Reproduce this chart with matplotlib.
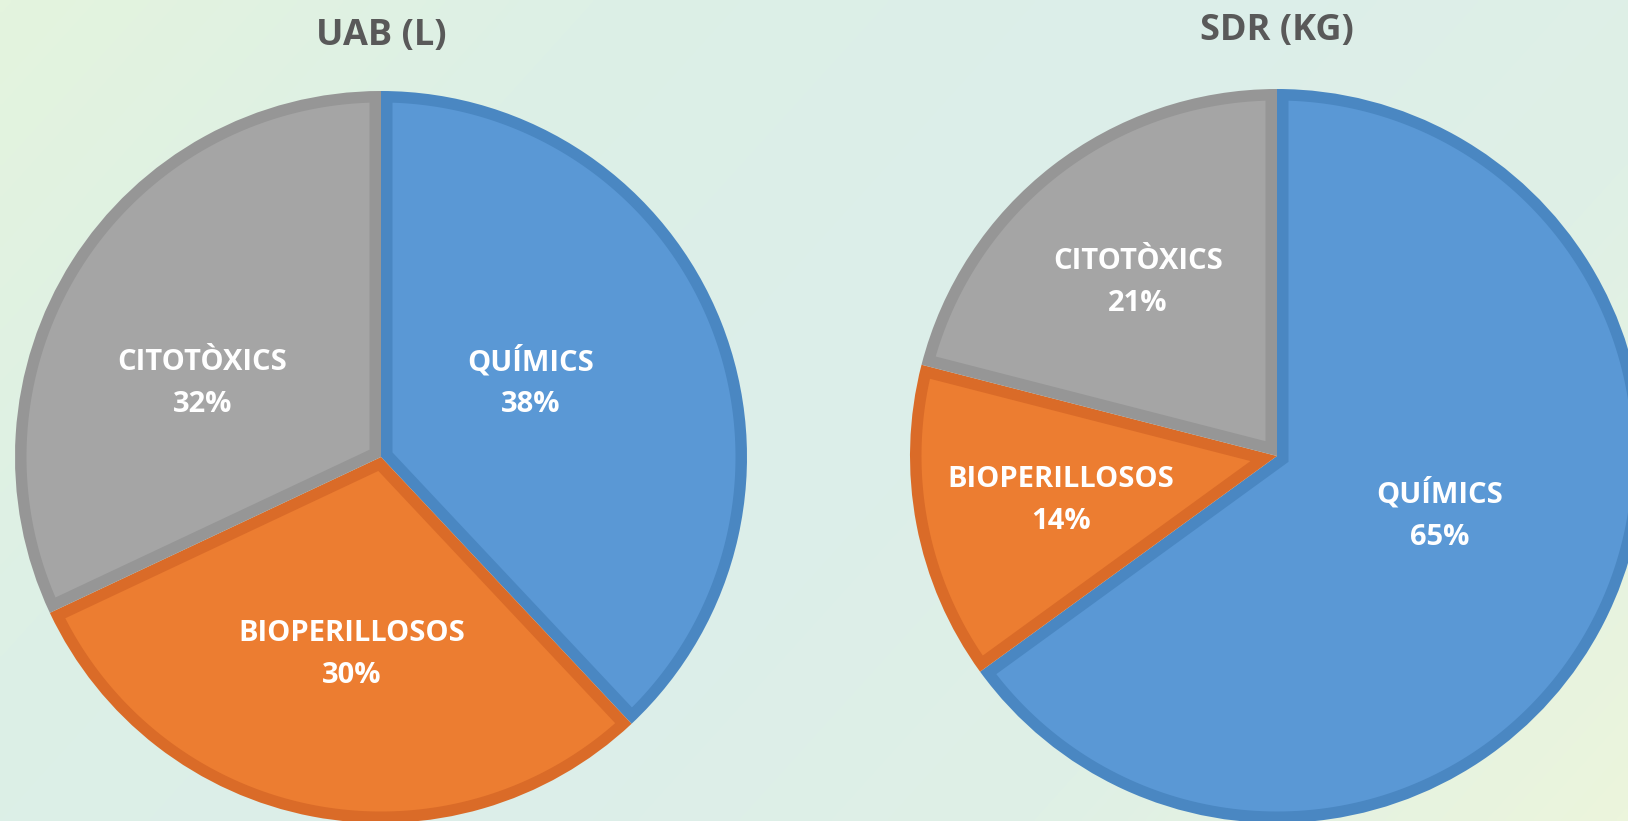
import numpy as np
import matplotlib
matplotlib.use("Agg")
import matplotlib.pyplot as plt
from matplotlib.colors import LinearSegmentedColormap
from matplotlib.patches import Polygon

# ---- data ----
categories = ["QUÍMICS", "BIOPERILLOSOS", "CITOTÒXICS"]
uab_values = [38, 30, 32]
sdr_values = [65, 14, 21]
titles = ["UAB (L)", "SDR (KG)"]

# ---- style ----
fills = ["#5A98D5", "#EC7D31", "#A5A5A5"]
edges = ["#4A87C2", "#DA6B28", "#969696"]
title_color = "#595959"
border = 11.5  # px, inner border width

W, H = 1628, 821
fig = plt.figure(figsize=(W / 100, H / 100), dpi=100)
ax = fig.add_axes([0, 0, 1, 1])
ax.set_xlim(0, W)
ax.set_ylim(0, H)
ax.set_aspect("equal")
ax.axis("off")

# background gradient
xx, yy = np.meshgrid(np.linspace(0, 1, 400), np.linspace(0, 1, 200))
t = np.clip(0.55 * xx + 0.25 * (1 - yy), 0, 1)
bg_cmap = LinearSegmentedColormap.from_list(
    "bg", ["#E4F4DE", "#DDF0E6", "#DCEEEA", "#DFF0E6", "#ECF5DC"])
ax.imshow(t, extent=(0, W, 0, H), cmap=bg_cmap, origin="lower",
          aspect="auto", zorder=0, interpolation="bilinear")


def inset_polygon(w, d):
    """Inner polygon of a wedge, inset by d (mitered corner)."""
    cx, cy = w.center
    r = w.r
    t1, t2 = w.theta1, w.theta2
    delta = np.deg2rad(t2 - t1)
    bis = np.deg2rad((t1 + t2) / 2)
    s = d / np.sin(delta / 2)
    px, py = cx + s * np.cos(bis), cy + s * np.sin(bis)
    ri = r - d
    off = np.rad2deg(np.arcsin(d / ri))
    phis = np.deg2rad(np.linspace(t1 + off, t2 - off, 200))
    pts = [(px, py)] + [(cx + ri * np.cos(p), cy + ri * np.sin(p)) for p in phis]
    return pts


charts = [
    dict(values=uab_values, center=(381, 364), r=366, title=titles[0],
         title_xy=(381, 785),
         label_pos=[(27, 0.46), (-98.5, 0.54), (157, 0.53)]),
    dict(values=sdr_values, center=(1277, 365), r=367, title=titles[1],
         title_xy=(1277, 790),
         label_pos=[(-19.4, 0.47), (-168.8, 0.60), (128.5, 0.61)]),
]

for ch in charts:
    wedges, _ = ax.pie(ch["values"], colors=edges, startangle=90,
                       counterclock=False, center=ch["center"],
                       radius=ch["r"], frame=True,
                       wedgeprops=dict(linewidth=0, antialiased=True))
    for w, fc in zip(wedges, fills):
        w.set_zorder(2)
        ax.add_patch(Polygon(inset_polygon(w, border), closed=True,
                             facecolor=fc, edgecolor="none", zorder=3))
    cx, cy = ch["center"]
    for cat, v, (ang, d) in zip(categories, ch["values"], ch["label_pos"]):
        a = np.deg2rad(ang)
        x = cx + d * ch["r"] * np.cos(a)
        y = cy + d * ch["r"] * np.sin(a)
        ax.text(x, y - 2, f"{cat}\n{v}%", ha="center", va="center",
                color="white", fontsize=21, fontweight="bold",
                family="Open Sans", linespacing=1.6, zorder=5)
    ax.text(ch["title_xy"][0], ch["title_xy"][1], ch["title"],
            ha="center", va="center", color=title_color, fontsize=26,
            fontweight="bold", family="Open Sans", zorder=5)

ax.set_xlim(0, W)
ax.set_ylim(0, H)
ax.axis("off")
fig.savefig("out.png", dpi=100)
